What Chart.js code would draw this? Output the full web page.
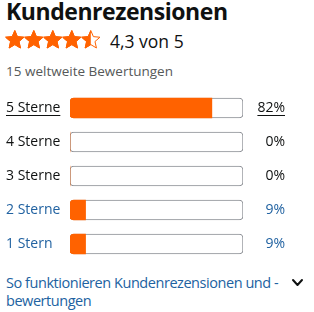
<!DOCTYPE html>
<html><head><meta charset="utf-8">
<script src="https://cdn.jsdelivr.net/npm/chart.js@4/dist/chart.umd.min.js"></script>
<style>
html,body{margin:0;padding:0;background:#fff;}
body{width:314px;height:312px;position:relative;overflow:hidden;font-family:"Open Sans",sans-serif;color:#0F1111;}
.t{position:absolute;white-space:nowrap;line-height:1;}
#title{left:6px;top:0px;font-size:23px;font-weight:700;letter-spacing:-0.45px;}
#stars{position:absolute;left:5px;top:30px;}
#avg{left:110px;top:32.5px;font-size:17.5px;}
#count{left:6px;top:64.5px;font-size:13.5px;color:#565959;}
#chartbox{position:absolute;left:0;top:91px;width:314px;height:170px;}
#foot{position:absolute;left:6px;top:274px;font-size:14.5px;line-height:18px;letter-spacing:-0.45px;color:#2162A1;white-space:nowrap;}
#chev{position:absolute;left:0;top:0;}
</style></head>
<body>
<div class="t" id="title">Kundenrezensionen</div>
<svg id="stars" width="96" height="20"></svg>
<div class="t" id="avg">4,3 von 5</div>
<div class="t" id="count">15 weltweite Bewertungen</div>
<div id="chartbox"><canvas id="c" width="314" height="170"></canvas></div>
<div id="foot">So funktionieren Kundenrezensionen und -<br>bewertungen</div>
<svg id="chev" width="314" height="312"><polyline points="293,280 297.5,285 302,280" fill="none" stroke="#0F1111" stroke-width="2" stroke-linecap="round" stroke-linejoin="round"/></svg>
<script>
// ---- data ----
const rating = 4.3;
const categories = ['5 Sterne', '4 Sterne', '3 Sterne', '2 Sterne', '1 Stern'];
const percents = [82, 0, 0, 9, 9];
const pctLabels = percents.map(v => v + '%');
const labelColors = ['#0F1111', '#0F1111', '#0F1111', '#2162A1', '#2162A1'];
const trackValues = [100, 100, 100, 100, 100];

// ---- stars (decoration) ----
(function(){
  const svg = document.getElementById('stars');
  const NS = 'http://www.w3.org/2000/svg';
  const R = 9.6, r = 4.4;
  function pts(cx, cy){
    const p = [];
    for (let i = 0; i < 10; i++) {
      const a = -Math.PI/2 + i*Math.PI/5;
      const rr = i % 2 === 0 ? R : r;
      p.push((cx + rr*Math.cos(a)).toFixed(2) + ',' + (cy + rr*Math.sin(a)).toFixed(2));
    }
    return p.join(' ');
  }
  const defs = document.createElementNS(NS, 'defs');
  svg.appendChild(defs);
  for (let i = 0; i < 5; i++) {
    const cx = 9.8 + i*19, cy = 10.2;
    const frac = Math.max(0, Math.min(1, rating - i));
    const shown = frac >= 1 ? 1 : (frac > 0 ? 0.5 : 0);
    const cp = document.createElementNS(NS, 'clipPath');
    cp.setAttribute('id', 'cp' + i);
    const rect = document.createElementNS(NS, 'rect');
    rect.setAttribute('x', cx - R); rect.setAttribute('y', 0);
    rect.setAttribute('width', 2*R*shown); rect.setAttribute('height', 20);
    cp.appendChild(rect); defs.appendChild(cp);
    const outline = document.createElementNS(NS, 'polygon');
    outline.setAttribute('points', pts(cx, cy));
    outline.setAttribute('fill', '#fff');
    outline.setAttribute('stroke', '#FF6200');
    outline.setAttribute('stroke-width', '1');
    outline.setAttribute('stroke-linejoin', 'round');
    svg.appendChild(outline);
    const fill = document.createElementNS(NS, 'polygon');
    fill.setAttribute('points', pts(cx, cy));
    fill.setAttribute('fill', '#FF6200');
    fill.setAttribute('stroke', '#FF6200');
    fill.setAttribute('stroke-width', '1');
    fill.setAttribute('stroke-linejoin', 'round');
    fill.setAttribute('clip-path', 'url(#cp' + i + ')');
    svg.appendChild(fill);
  }
})();

// ---- chart ----
Chart.defaults.font.family = '"Open Sans", sans-serif';
const FONT = {size: 14, family: '"Open Sans", sans-serif'};
const underline = {
  id: 'underline',
  afterDraw(chart) {
    const ctx = chart.ctx;
    ctx.save();
    ctx.font = '14px "Open Sans", sans-serif';
    ctx.lineWidth = 1;
    const y = chart.scales.y, y2 = chart.scales.y2;
    const py = Math.round(y.getPixelForTick(0) + 6.5) + 0.5;
    ctx.strokeStyle = labelColors[0];
    let w = ctx.measureText(categories[0]).width;
    ctx.beginPath(); ctx.moveTo(y.left, py); ctx.lineTo(y.left + w, py); ctx.stroke();
    w = ctx.measureText(pctLabels[0]).width;
    ctx.beginPath(); ctx.moveTo(y2.right - w, py); ctx.lineTo(y2.right, py); ctx.stroke();
    ctx.restore();
  }
};
function fitWidth(w) {
  return s => { s.width = w; s.paddingTop = 0; s.paddingBottom = 0; };
}
new Chart(document.getElementById('c'), {
  type: 'bar',
  data: {
    labels: categories,
    datasets: [
      {
        data: percents, backgroundColor: '#FF6200', borderWidth: 0,
        borderRadius: 4, borderSkipped: 'end', barThickness: 20, grouped: false, order: 0
      },
      {
        data: trackValues, backgroundColor: '#FFFFFF', borderColor: '#8D9096', borderWidth: 1,
        borderRadius: 4, borderSkipped: false, barThickness: 20, grouped: false, order: 1
      }
    ]
  },
  options: {
    indexAxis: 'y',
    responsive: false,
    animation: false,
    layout: {padding: {left: 6, right: 29, top: 0, bottom: 0}},
    plugins: {legend: {display: false}, tooltip: {enabled: false}},
    scales: {
      x: {display: false, min: 0, max: 100},
      y: {
        position: 'left', grid: {display: false}, border: {display: false},
        ticks: {crossAlign: 'far', font: FONT, autoSkip: false, color: c => labelColors[c.index]},
        afterFit: fitWidth(64)
      },
      y2: {
        type: 'category', labels: pctLabels, position: 'right', offset: true,
        grid: {display: false}, border: {display: false},
        ticks: {crossAlign: 'far', font: FONT, autoSkip: false, color: c => labelColors[c.index]},
        afterFit: fitWidth(42)
      }
    }
  },
  plugins: [underline]
});
</script>
</body></html>
